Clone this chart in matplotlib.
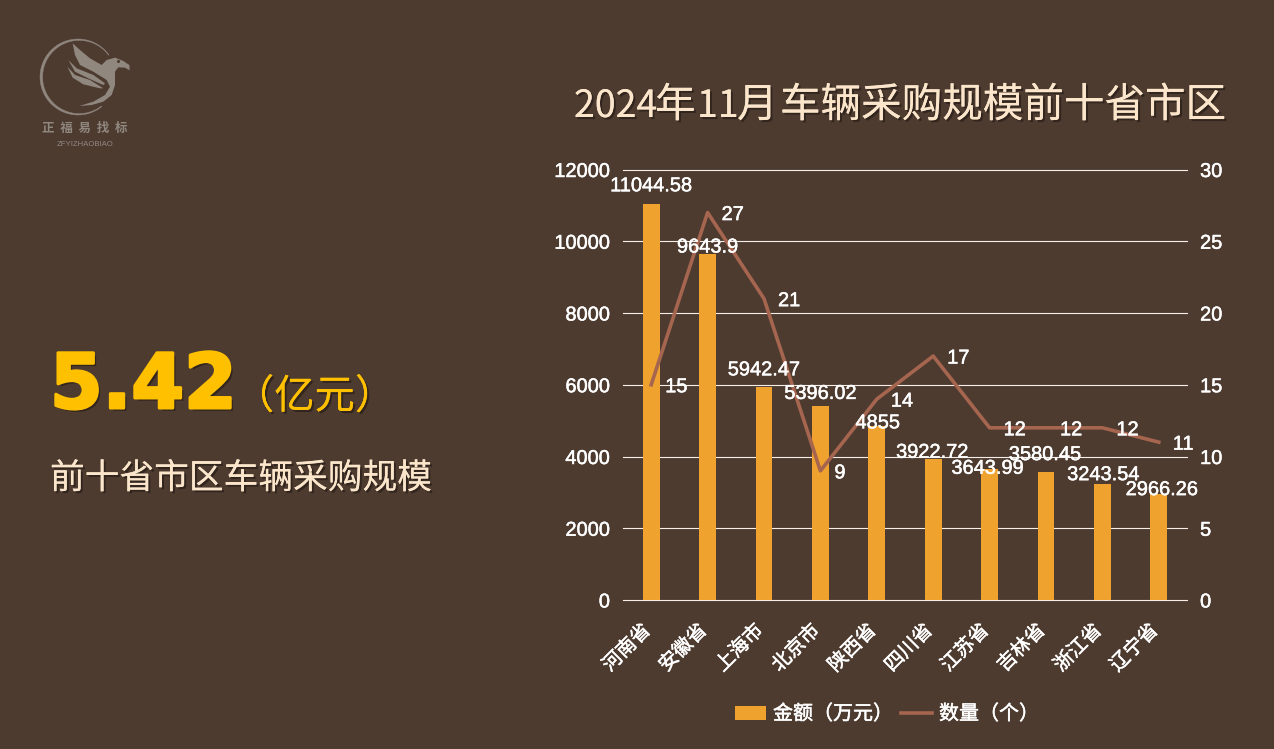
import numpy as np
import matplotlib
matplotlib.use('Agg')
import matplotlib.pyplot as plt
import matplotlib.patheffects as pe
from matplotlib.patches import Patch, Polygon
from matplotlib.lines import Line2D
from matplotlib.transforms import ScaledTranslation

provinces = ['河南省', '安徽省', '上海市', '北京市', '陕西省', '四川省', '江苏省', '吉林省', '浙江省', '辽宁省']
amounts = [11044.58, 9643.9, 5942.47, 5396.02, 4855, 3922.72, 3643.99, 3580.45, 3243.54, 2966.26]
amount_labels = ['11044.58', '9643.9', '5942.47', '5396.02', '4855', '3922.72', '3643.99', '3580.45', '3243.54', '2966.26']
counts = [15, 27, 21, 9, 14, 17, 12, 12, 12, 11]

# label nudges in pixels, the labels do not sit at a constant distance in the original
amount_dy = [18, 7, 17, 13, 3, 7, 1, 17, 9, 4]
amount_dx = [0, 0, 0, 0, 1, -1, -2, -1, 1, 3]

bg = '#4d3b30'
bar_color = '#f0a22e'
line_color = '#a5654f'
cream = '#fbe6cc'
gold = '#ffc000'
logo_color = '#90877f'
px = 72 / 100  # one pixel in points

plt.rcParams['font.family'] = ['Liberation Sans', 'Noto Sans CJK SC']

fig = plt.figure(figsize=(12.74, 7.49), dpi=100, facecolor=bg)

# chart
ax = fig.add_axes([623 / 1274, 1 - 600 / 749, 564 / 1274, 430.5 / 749], facecolor='none')
x = np.arange(len(provinces))
ax.bar(x, amounts, width=0.3, color=bar_color, zorder=2)
ax.set_xlim(-0.5, 9.5)
ax.set_ylim(0, 12000)
ax.set_yticks(range(0, 12001, 2000))
ax.grid(axis='y', color='#f5efe8', linewidth=0.8, zorder=1)
for g in ax.get_ygridlines():
    g.set_clip_on(False)
ax.set_axisbelow(True)
for s in ax.spines.values():
    s.set_visible(False)
ax.tick_params(axis='y', length=0, colors='white', labelsize=14.4, pad=9.4)
ax.set_xticks(x)
ax.set_xticklabels(provinces, rotation=45, ha='right', rotation_mode='anchor', fontsize=14)
ax.tick_params(axis='x', length=0, colors='white', pad=10)
stroke = [pe.withStroke(linewidth=0.35, foreground='white')]
shift = ScaledTranslation(-10 / 100, -7 / 100, fig.dpi_scale_trans)
for lab in ax.get_xticklabels():
    lab.set_transform(lab.get_transform() + shift)
for lab in ax.get_xticklabels() + ax.get_yticklabels():
    lab.set_path_effects(stroke)
    lab.set_color('white')

ax2 = ax.twinx()
ax2.set_ylim(0, 30)
ax2.set_yticks(range(0, 31, 5))
ax2.plot(x, counts, color=line_color, linewidth=2.6, zorder=3)
for s in ax2.spines.values():
    s.set_visible(False)
ax2.tick_params(axis='y', length=0, colors='white', labelsize=14.4, pad=9.4)
for lab in ax2.get_yticklabels():
    lab.set_path_effects(stroke)

for i in range(len(provinces)):
    ax2.annotate(amount_labels[i], xy=(x[i], amounts[i] / 400), xytext=(amount_dx[i] * px, amount_dy[i] * px),
                 textcoords='offset points', ha='center', va='center', color='white', fontsize=14.4,
                 path_effects=stroke, zorder=5)
    ax2.annotate(str(counts[i]), xy=(x[i], counts[i]), xytext=(14 * px, -2 * px), textcoords='offset points',
                 ha='left', va='center', color='white', fontsize=14.4, path_effects=stroke, zorder=5)

handles = [Patch(facecolor=bar_color, label='金额（万元）'),
           Line2D([0], [0], color=line_color, linewidth=2.6, label='数量（个）')]
leg = fig.legend(handles=handles, loc='center', bbox_to_anchor=(887 / 1274, 1 - 714 / 749), ncol=2, frameon=False,
                 fontsize=14.4, handlelength=1.55, handleheight=0.7, handletextpad=0.35, columnspacing=0.4)
for t in leg.get_texts():
    t.set_color('white')
    t.set_path_effects(stroke)

# overlay in pixel coordinates for the text block and the logo
ov = fig.add_axes([0, 0, 1, 1], facecolor='none')
ov.set_xlim(0, 1274)
ov.set_ylim(749, 0)
ov.axis('off')

shadow = [pe.withSimplePatchShadow(offset=(1.5, -1.5), shadow_rgbFace='#2b201a', alpha=0.8), pe.Normal()]

# title is split up since the digits are narrower than in any installed font at this height
title_parts = ['2024', '年', '11', '月', '车辆采购规模前十省市区']
title_x = [574, 655, 697, 737, 780]
title_size = [27, 29.2, 27, 29.2, 29.2]
for part, tx, ts in zip(title_parts, title_x, title_size):
    ov.text(tx, 117, part, ha='left', va='baseline', color=cream, fontsize=ts, path_effects=shadow,
            family=['Noto Sans CJK SC'])

ov.text(50, 408, '5.42', ha='left', va='baseline', color=gold, fontsize=54.5, family='DejaVu Sans', fontweight='bold',
        path_effects=[pe.withSimplePatchShadow(offset=(2, -2), shadow_rgbFace='#2b201a', alpha=0.8),
                      pe.withStroke(linewidth=2.2, foreground=gold)])
ov.text(234, 397, '（亿元）', ha='left', va='center', color=gold, fontsize=29, path_effects=shadow, family=['Noto Sans CJK SC'])
ov.text(50, 479, '前十省市区车辆采购规模', ha='left', va='center', color=cream, fontsize=25, path_effects=shadow,
        family=['Noto Sans CJK SC'])


# logo, outline
def zoomed(points):
    return [(60 + a / 3, 35 + b / 3) for a, b in points]


t = np.radians(np.linspace(36, 308, 120))
outer = np.column_stack([78 + 38 * np.cos(t), 77 - 38 * np.sin(t)])
inner = np.column_stack([79.2 + 36.6 * np.cos(t[::-1]), 77 - 36.6 * np.sin(t[::-1])])
ov.add_patch(Polygon(np.vstack([outer, inner]), closed=True, facecolor=logo_color, edgecolor=logo_color, linewidth=0.3))

wing = [(38, 25), (60, 45), (90, 70), (125, 90), (140, 75), (165, 68), (190, 78), (208, 90), (209, 106), (195, 98),
        (175, 97), (165, 110), (165, 150), (155, 180), (130, 200), (95, 210), (58, 213), (100, 200), (135, 180),
        (150, 155), (140, 135), (100, 110), (60, 90), (45, 60)]
feather1 = [(25, 75), (50, 100), (100, 120), (135, 145), (130, 150), (85, 130), (45, 110)]
feather2 = [(22, 95), (45, 120), (90, 135), (130, 160), (120, 160), (70, 148), (38, 128)]
for shape in (wing, feather1, feather2):
    ov.add_patch(Polygon(zoomed(shape), closed=True, facecolor=logo_color, edgecolor='none'))
ov.plot([118], [61], marker='o', markersize=1.2, color=bg)
ov.text(85, 128, '正  福  易  找  标', ha='center', va='center', color=logo_color, fontsize=9, fontweight='bold',
        family=['Noto Sans CJK SC'])
ov.text(85, 144, 'ZFYIZHAOBIAO', ha='center', va='center', color=logo_color, fontsize=5.6)

plt.savefig('out.png', dpi=100, facecolor=bg)
plt.close()
